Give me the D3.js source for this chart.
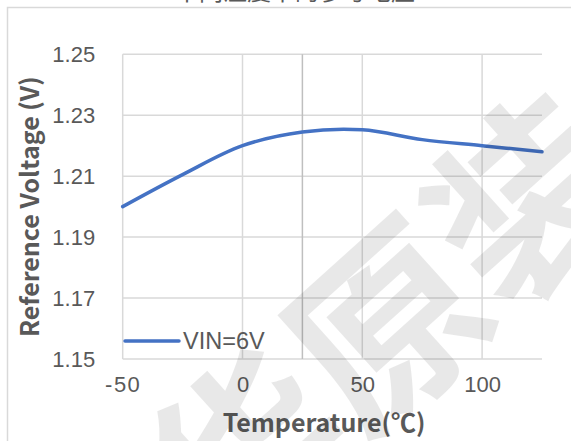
<!DOCTYPE html>
<html>
<head>
<meta charset="utf-8">
<script src="https://cdn.jsdelivr.net/npm/d3@7"></script>
<style>
  body { margin: 0; background: #fff; }
  svg { display: block; }
  .tick text { font-family: "Liberation Sans", Arial, sans-serif; font-size: 22px; fill: #595959; }
</style>
</head>
<body>
<svg id="chart"></svg>
<script>
// data
const temps = [-50, -25, 0, 25, 50, 75, 100, 125];
const vref = [1.200, 1.2105, 1.220, 1.2245, 1.2252, 1.222, 1.220, 1.218];
const xTicks = [-50, 0, 50, 100];
const xGrid = [0, 50, 100];
const xMark = [25];
const yTicks = [1.15, 1.17, 1.19, 1.21, 1.23, 1.25];
const seriesName = "VIN=6V";
const title = "不同温度下的参考电压";
const xTitle = "Temperature(℃)";
const yTitle = "Reference Voltage (V)";

const width = 571, height = 441;
const plot = { left: 122.7, right: 542, top: 54.3, bottom: 359 };
const cjkFont = '"Noto Sans CJK SC", sans-serif';
const latinFont = '"Liberation Sans", Arial, sans-serif';

const svg = d3.select('#chart')
    .attr('width', width)
    .attr('height', height);

const x = d3.scaleLinear().domain([-50, 125]).range([plot.left, plot.right]);
const y = d3.scaleLinear().domain([1.15, 1.25]).range([plot.bottom, plot.top]);

// chart frame (only top and left edges are in view)
svg.append('rect')
    .attr('x', 7.5).attr('y', 7.5)
    .attr('width', 600).attr('height', 460)
    .attr('fill', '#fff')
    .attr('stroke', '#d9d9d9')
    .attr('stroke-width', 1.5);

// title, cut off by the top of the picture
svg.append('text')
    .attr('x', 295).attr('y', 0)
    .attr('text-anchor', 'middle')
    .style('font-family', cjkFont)
    .style('font-size', '24px')
    .attr('fill', '#595959')
    .text(title);

// gridlines
const grid = svg.append('g');
grid.selectAll('.hgrid').data(yTicks).join('line')
    .attr('x1', plot.left).attr('x2', plot.right)
    .attr('y1', d => y(d)).attr('y2', d => y(d))
    .attr('stroke', '#d9d9d9').attr('stroke-width', 1.5);
grid.selectAll('.vgrid').data([-50].concat(xGrid)).join('line')
    .attr('x1', d => x(d)).attr('x2', d => x(d))
    .attr('y1', plot.top).attr('y2', plot.bottom)
    .attr('stroke', '#d9d9d9').attr('stroke-width', 1.5);
grid.selectAll('.vmark').data(xMark).join('line')
    .attr('x1', d => x(d)).attr('x2', d => x(d))
    .attr('y1', plot.top).attr('y2', plot.bottom)
    .attr('stroke', '#bfbfbf').attr('stroke-width', 1.5);

// axes (labels only)
const yAxis = svg.append('g')
    .attr('transform', `translate(${plot.left - 2},0)`)
    .call(d3.axisLeft(y).tickValues(yTicks).tickFormat(d3.format('.2f')).tickSize(0).tickPadding(25.5));
yAxis.select('.domain').remove();

const xAxis = svg.append('g')
    .attr('transform', `translate(0,${plot.bottom})`)
    .call(d3.axisBottom(x).tickValues(xTicks).tickFormat(d => d < 0 ? '-' + Math.abs(d) : d).tickSize(0).tickPadding(17.5));
xAxis.select('.domain').remove();
xAxis.selectAll('.tick text').style('letter-spacing', d => d < 0 ? '1.5px' : null);

// axis titles
svg.append('text')
    .attr('transform', `translate(39,${(plot.top + plot.bottom) / 2}) rotate(-90)`)
    .attr('text-anchor', 'middle')
    .style('font-family', cjkFont)
    .style('font-size', '25px')
    .style('font-weight', 'bold')
    .attr('fill', '#595959')
    .text(yTitle);

svg.append('text')
    .attr('x', 324).attr('y', 432)
    .attr('text-anchor', 'middle')
    .style('font-family', cjkFont)
    .style('font-size', '25px')
    .style('font-weight', 'bold')
    .attr('fill', '#595959')
    .text(xTitle);

// series line, smoothed like the spreadsheet
const line = d3.line()
    .x(d => x(d[0]))
    .y(d => y(d[1]))
    .curve(d3.curveCatmullRom.alpha(0.5));

svg.append('path')
    .datum(d3.zip(temps, vref))
    .attr('d', line)
    .attr('fill', 'none')
    .attr('stroke', '#4472c4')
    .attr('stroke-width', 3.5)
    .attr('stroke-linecap', 'round');

// legend inside the plot
const legend = svg.append('g').attr('transform', 'translate(125,341)');
legend.append('line')
    .attr('x1', 0).attr('x2', 54)
    .attr('stroke', '#4472c4').attr('stroke-width', 3.5)
    .attr('stroke-linecap', 'round');
legend.append('text')
    .attr('x', 58).attr('dy', '0.35em')
    .style('font-family', latinFont)
    .style('font-size', '23.5px')
    .attr('fill', '#595959')
    .text(seriesName);

// faint watermark over everything
svg.append('text')
    .attr('transform', 'translate(390,330) rotate(-42)')
    .attr('text-anchor', 'middle')
    .attr('dy', '0.35em')
    .style('font-family', cjkFont)
    .style('font-size', '190px')
    .style('font-weight', 'bold')
    .style('pointer-events', 'none')
    .attr('fill', 'rgba(0,0,0,0.09)')
    .text('华原装');
</script>
</body>
</html>
